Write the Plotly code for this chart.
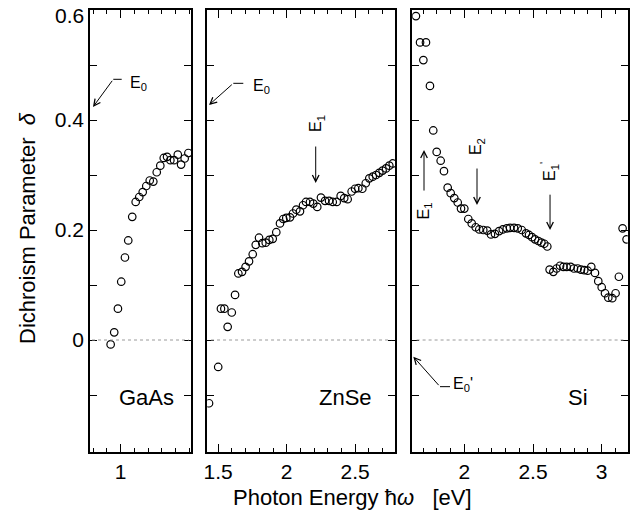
import plotly.graph_objects as go

# ---------------- data ----------------
gaas_energy = [0.927, 0.953, 0.980, 1.004, 1.031, 1.055, 1.084, 1.109, 1.135, 1.160, 1.186,
               1.211, 1.237, 1.262, 1.288, 1.313, 1.337, 1.361, 1.388, 1.415, 1.439, 1.465, 1.492]
gaas_delta = [-0.008, 0.014, 0.057, 0.106, 0.150, 0.181, 0.224, 0.251, 0.260, 0.269, 0.280,
              0.290, 0.288, 0.305, 0.317, 0.331, 0.333, 0.327, 0.327, 0.337, 0.319, 0.330, 0.340]

znse_energy = [1.433, 1.500, 1.520, 1.545, 1.569, 1.599, 1.623, 1.647, 1.674, 1.700, 1.725,
               1.752, 1.774, 1.798, 1.822, 1.847, 1.873, 1.898, 1.924, 1.951, 1.975, 1.997,
               2.024, 2.046, 2.070, 2.097, 2.119, 2.141, 2.170, 2.194, 2.223, 2.250, 2.280,
               2.309, 2.336, 2.365, 2.394, 2.420, 2.445, 2.474, 2.499, 2.523, 2.552, 2.577,
               2.603, 2.628, 2.652, 2.676, 2.700, 2.725, 2.749, 2.774]
znse_delta = [-0.115, -0.049, 0.057, 0.057, 0.024, 0.050, 0.082, 0.121, 0.124, 0.133, 0.143,
              0.156, 0.173, 0.186, 0.176, 0.177, 0.182, 0.184, 0.196, 0.212, 0.220, 0.222,
              0.223, 0.230, 0.237, 0.234, 0.245, 0.251, 0.251, 0.248, 0.242, 0.259, 0.253,
              0.253, 0.251, 0.251, 0.262, 0.258, 0.256, 0.270, 0.275, 0.276, 0.275, 0.285,
              0.294, 0.297, 0.300, 0.304, 0.308, 0.312, 0.317, 0.321]

si_energy = [1.648, 1.678, 1.702, 1.721, 1.750, 1.774, 1.799, 1.828, 1.852, 1.879, 1.901,
             1.927, 1.952, 1.976, 2.000, 2.029, 2.054, 2.083, 2.109, 2.138, 2.167, 2.194,
             2.223, 2.253, 2.280, 2.309, 2.333, 2.362, 2.389, 2.418, 2.449, 2.471, 2.493,
             2.515, 2.539, 2.561, 2.582, 2.604, 2.621, 2.648, 2.672, 2.697, 2.721, 2.745,
             2.774, 2.798, 2.825, 2.849, 2.873, 2.898, 2.924, 2.951, 2.975, 3.000, 3.024,
             3.048, 3.077, 3.101, 3.125, 3.152, 3.181]
si_delta = [0.589, 0.541, 0.509, 0.541, 0.462, 0.381, 0.342, 0.326, 0.307, 0.277, 0.267,
            0.258, 0.250, 0.239, 0.239, 0.220, 0.212, 0.205, 0.201, 0.200, 0.199, 0.192,
            0.193, 0.198, 0.201, 0.203, 0.204, 0.204, 0.203, 0.200, 0.194, 0.191, 0.187,
            0.183, 0.180, 0.177, 0.175, 0.170, 0.128, 0.124, 0.130, 0.135, 0.133, 0.133,
            0.133, 0.130, 0.130, 0.128, 0.127, 0.126, 0.133, 0.122, 0.107, 0.096, 0.085,
            0.077, 0.076, 0.085, 0.115, 0.203, 0.183]

materials = ["GaAs", "ZnSe", "Si"]
x_ranges = [[0.777, 1.511], [1.4204, 2.7905], [1.6215, 3.1892]]
x_major = [[1], [1.5, 2, 2.5], [2, 2.5, 3]]
x_major_text = [["1"], ["1.5", "2", "2.5"], ["2", "2.5", "3"]]
y_range = [-0.2036, 0.6]
y_major = [0, 0.2, 0.4]
y_major_text = ["0", "0.2", "0.4"]
y_top_label = "0.6"
y_minor = [-0.1, 0.1, 0.3, 0.5, 0.6]
label_pos = [(1.184, -0.105), (2.429, -0.105), (2.827, -0.105)]

# ---------------- figure ----------------
W, H = 639, 519
x_dom_px = [(90, 191), (207.3, 395), (412.3, 627.7)]
y_dom = [(H - 452) / H, (H - 10) / H]

FONT = "Liberation Sans, Arial, Helvetica, sans-serif"
fig = go.Figure()
series = [(gaas_energy, gaas_delta), (znse_energy, znse_delta), (si_energy, si_delta)]
for i, (xs, ys) in enumerate(series):
    sfx = "" if i == 0 else str(i + 1)
    fig.add_trace(go.Scatter(
        x=xs, y=ys, mode="markers", xaxis="x" + sfx, yaxis="y" + sfx,
        marker=dict(symbol="circle-open", size=7.5, color="black", line=dict(width=1.2)),
        showlegend=False, cliponaxis=True, hoverinfo="skip"))

layout = dict(width=W, height=H, margin=dict(l=0, r=0, t=0, b=0, autoexpand=False),
              paper_bgcolor="white", plot_bgcolor="white",
              font=dict(family=FONT, color="black", size=20), showlegend=False)
for i in range(3):
    sfx = "" if i == 0 else str(i + 1)
    layout["xaxis" + sfx] = dict(
        domain=[x_dom_px[i][0] / W, x_dom_px[i][1] / W], range=x_ranges[i],
        anchor="y" + sfx, tickmode="array", tickvals=x_major[i], ticktext=x_major_text[i],
        ticks="inside", ticklen=8, tickwidth=1.2, tickcolor="black",
        minor=dict(tickmode="linear", tick0=0, dtick=0.1, ticks="inside", ticklen=4.5,
                   tickwidth=1.1, tickcolor="black", showgrid=False),
        showline=True, linecolor="black", linewidth=1.6, mirror="allticks",
        showgrid=False, zeroline=False, tickfont=dict(size=21), fixedrange=True,
        ticklabeloverflow="allow", automargin=False)
    layout["yaxis" + sfx] = dict(
        domain=list(y_dom), range=y_range, anchor="x" + sfx,
        tickmode="array", tickvals=y_major, ticktext=y_major_text,
        showticklabels=(i == 0), ticks="inside", ticklen=7, tickwidth=1.2, tickcolor="black",
        minor=dict(tickmode="array", tickvals=y_minor, ticks="inside", ticklen=7,
                   tickwidth=1.2, tickcolor="black", showgrid=False),
        showline=True, linecolor="black", linewidth=1.6, mirror="allticks",
        showgrid=False, zeroline=False, tickfont=dict(size=21), fixedrange=True,
        ticklabeloverflow="allow", automargin=False)
fig.update_layout(**layout)

shapes = []
annotations = []
# top y label, nudged inside the page as in the original
annotations.append(dict(text=y_top_label, x=86 / W, y=(H - 16) / H, xref="paper", yref="paper",
                        showarrow=False, xanchor="right", yanchor="middle", font=dict(size=21)))
for i in range(3):
    sfx = "" if i == 0 else str(i + 1)
    # dotted zero line
    shapes.append(dict(type="line", xref="x" + sfx + " domain", yref="y" + sfx,
                       x0=0.02, x1=0.98, y0=0, y1=0,
                       line=dict(color="#9a9a9a", width=1, dash="dot")))
    annotations.append(dict(text=materials[i], x=label_pos[i][0], y=label_pos[i][1],
                            xref="x" + sfx, yref="y" + sfx, showarrow=False,
                            font=dict(size=22), xanchor="center", yanchor="middle"))

# critical point markers: (axis suffix, tip, bend, horizontal end, text pos, text)
bent_arrows = [
    ("", (0.7985, 0.4236), (0.9462, 0.474), (1.0073, 0.474), (1.050, 0.467), "E<sub>0</sub>"),
    ("2", (1.4328, 0.4273), (1.6102, 0.4667), (1.6832, 0.4667), (1.740, 0.460), "E<sub>0</sub>"),
    ("3", (1.6288, -0.0303), (1.8231, -0.0848), (1.8959, -0.0848), (1.905, -0.080), "E<sub>0</sub>'"),
]
for sfx, tip, bend, hend, tpos, txt in bent_arrows:
    annotations.append(dict(x=tip[0], y=tip[1], ax=bend[0], ay=bend[1],
                            xref="x" + sfx, yref="y" + sfx, axref="x" + sfx, ayref="y" + sfx,
                            text="", showarrow=True, arrowhead=5, arrowsize=1.3,
                            arrowwidth=1, arrowcolor="black", standoff=0, startstandoff=0))
    shapes.append(dict(type="line", xref="x" + sfx, yref="y" + sfx,
                       x0=bend[0], x1=hend[0], y0=bend[1], y1=hend[1],
                       line=dict(color="black", width=1)))
    annotations.append(dict(x=tpos[0], y=tpos[1], xref="x" + sfx, yref="y" + sfx,
                            text=txt, showarrow=False, xanchor="left", yanchor="middle",
                            font=dict(size=16)))

# straight vertical arrows: (axis suffix, x, y tail, y tip, text pos y, text x, text)
straight_arrows = [
    ("2", 2.2117, 0.3545, 0.2855, 0.394, 2.218, "E<sub>1</sub>"),
    ("3", 1.7067, 0.269, 0.3455, 0.235, 1.712, "E<sub>1</sub>"),
    ("3", 2.0924, 0.3145, 0.2455, 0.352, 2.090, "E<sub>2</sub>"),
    ("3", 2.6240, 0.267, 0.200, 0.306, 2.618, "E<sub>1</sub><sup>'</sup>"),
]
for sfx, xx, ytail, ytip, ty, tx, txt in straight_arrows:
    annotations.append(dict(x=xx, y=ytip, ax=xx, ay=ytail,
                            xref="x" + sfx, yref="y" + sfx, axref="x" + sfx, ayref="y" + sfx,
                            text="", showarrow=True, arrowhead=5, arrowsize=1.3,
                            arrowwidth=1, arrowcolor="black", standoff=0, startstandoff=0))
    annotations.append(dict(x=tx, y=ty, xref="x" + sfx, yref="y" + sfx, text=txt,
                            showarrow=False, textangle=-90, font=dict(size=16),
                            xanchor="center", yanchor="middle"))

# axis titles
annotations.append(dict(text="Dichroism Parameter\u00a0\u00a0<i>δ</i>", x=27 / W, y=(H - 228) / H,
                        xref="paper", yref="paper", showarrow=False, textangle=-90,
                        font=dict(size=22), xanchor="center", yanchor="middle"))
annotations.append(dict(text="Photon Energy\u00a0ħ<i>ω</i>\u00a0\u00a0\u00a0[eV]", x=352 / W, y=(H - 497) / H,
                        xref="paper", yref="paper", showarrow=False,
                        font=dict(size=22), xanchor="center", yanchor="middle"))

fig.update_layout(shapes=shapes, annotations=annotations)
fig.write_html("out.html")
